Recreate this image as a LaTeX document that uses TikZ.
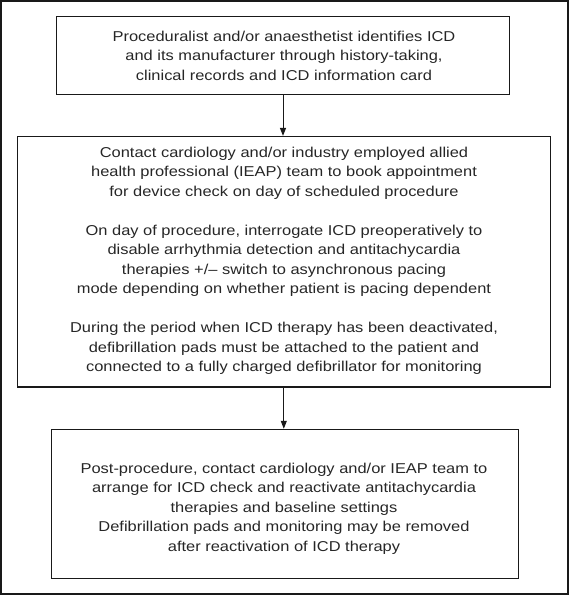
\documentclass[tikz,border=0pt]{standalone}
\usepackage{fontspec}
\setmainfont{Liberation Sans}[FakeStretch=1.15]
\usetikzlibrary{arrows.meta}
\begin{document}
\begin{tikzpicture}[x=1pt,y=-1pt,
  frame/.style={draw=black!90, line width=1.2pt},
  stepbox/.style={draw=black!90, line width=1.1pt, inner sep=0pt},
  txt/.style={align=center, text=black!85, font=\fontsize{14.3}{19.5}\selectfont, inner sep=0pt, anchor=base},
  flow/.style={draw=black!90, line width=1pt, -{Triangle[length=8pt,width=6pt]}}]
\useasboundingbox (0,0) rectangle (569,595);
\draw[frame] (1,1) rectangle (568,594);
\node[stepbox, minimum width=452.6pt, minimum height=78.3pt] (b1) at (283,55.2) {};
\node[stepbox, minimum width=533pt, minimum height=250.5pt] (b2) at (283.8,261.7) {};
\node[stepbox, minimum width=467.4pt, minimum height=149pt] (b3) at (285,503.8) {};
\node[txt] (t1) at (284,80) {Proceduralist and/or anaesthetist identifies ICD\\
and its manufacturer through history-taking,\\
clinical records and ICD information card};
\node[txt] (t2) at (284,371.5) {Contact cardiology and/or industry employed allied\\
health professional (IEAP) team to book appointment\\
for device check on day of scheduled procedure\\[19.5pt]
On day of procedure, interrogate ICD preoperatively to\\
disable arrhythmia detection and antitachycardia\\
therapies +/\textendash{} switch to asynchronous pacing\\
mode depending on whether patient is pacing dependent\\[19.5pt]
During the period when ICD therapy has been deactivated,\\
defibrillation pads must be attached to the patient and\\
connected to a fully charged defibrillator for monitoring};
\node[txt] (t3) at (284,551) {Post-procedure, contact cardiology and/or IEAP team to\\
arrange for ICD check and reactivate antitachycardia\\
therapies and baseline settings\\
Defibrillation pads and monitoring may be removed\\
after reactivation of ICD therapy};
\draw[flow] (b1.south) -- (b1.south |- b2.north);
\draw[flow] (b2.south) -- (b2.south |- b3.north);
\end{tikzpicture}
\end{document}
